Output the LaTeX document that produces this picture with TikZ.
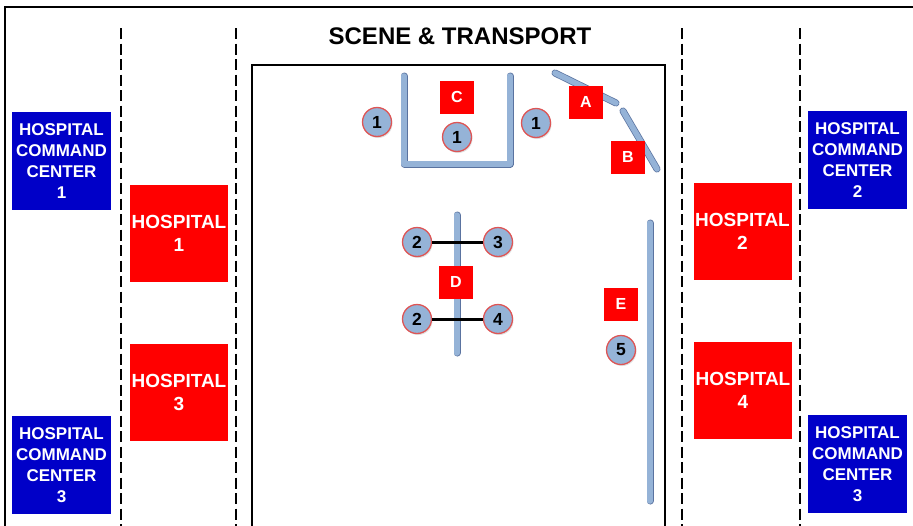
\documentclass[tikz,border=0pt]{standalone}
\usepackage{fontspec}
\setmainfont{Liberation Sans}
\usetikzlibrary{shadows}
\definecolor{hccblue}{RGB}{0,0,200}
\definecolor{hosred}{RGB}{255,0,0}
\definecolor{barfill}{RGB}{149,179,215}
\definecolor{barline}{RGB}{90,115,160}
\definecolor{ringred}{RGB}{222,85,85}

\begin{document}
\begin{tikzpicture}[x=1pt, y=-1pt, every node/.style={font=\bfseries, inner sep=0pt},
  hcc/.style={fill=hccblue, text=white, align=center, minimum width=99pt, minimum height=98pt, font=\bfseries\fontsize{17}{21}\selectfont},
  hosp/.style={fill=hosred, text=white, align=center, minimum width=98pt, minimum height=97pt, font=\bfseries\fontsize{19}{23}\selectfont},
  unit/.style={fill=hosred, text=white, minimum width=34pt, minimum height=33pt, font=\bfseries\fontsize{16}{18}\selectfont},
  resp/.style={circle, fill=barfill, draw=ringred, line width=1.3pt, minimum size=29pt, font=\bfseries\fontsize{17.5}{19}\selectfont, drop shadow={opacity=0.25, shadow xshift=1pt, shadow yshift=-1.5pt}},
  bar/.style={draw=barfill, line width=5.5pt, line cap=round, line join=round, preaction={draw=barline, line width=7pt, line cap=round, line join=round}},
  zone/.style={line width=2.3pt, dash pattern=on 11pt off 4.5pt},
  link/.style={line width=3pt}]
\useasboundingbox (0,0) rectangle (913,525);
% frame and zones
\draw[line width=2.5pt] (5,540) -- (5,7) -- (930,7);
\foreach \x in {121,236,682,800}
  \draw[zone] (\x,28) -- (\x,530);
\draw[line width=2.5pt] (252,540) -- (252,65) -- (665,65) -- (665,540);
\node[font=\bfseries\fontsize{24}{28}\selectfont] (title) at (460,36) {SCENE \& TRANSPORT};

% command centers and hospitals
\node[hcc] (hcc1) at (61.5,161) {HOSPITAL\\COMMAND\\CENTER\\1};
\node[hcc] (hcc3l) at (61.5,465) {HOSPITAL\\COMMAND\\CENTER\\3};
\node[hcc] (hcc2) at (857.5,160) {HOSPITAL\\COMMAND\\CENTER\\2};
\node[hcc] (hcc3r) at (857.5,464) {HOSPITAL\\COMMAND\\CENTER\\3};
\node[hosp] (hos1) at (179,233) {HOSPITAL\\1};
\node[hosp] (hos3) at (179,392) {HOSPITAL\\3};
\node[hosp] (hos2) at (742.5,231.5) {HOSPITAL\\2};
\node[hosp] (hos4) at (743,390.5) {HOSPITAL\\4};

% barriers
\draw[bar] (404,76) -- (404,164) -- (510,164) -- (510,76);
\draw[bar] (555,73) -- (616,103);
\draw[bar] (623,111) -- (657,169);
\draw[bar] (457,215) -- (457,353);
\draw[bar] (650,223) -- (650,501);

% units
\node[unit] (unitC) at (457,97) {C};
\node[unit] (unitA) at (586,102) {A};
\node[unit] (unitB) at (628,157) {B};
\node[unit] (unitD) at (456,282) {D};
\node[unit] (unitE) at (621,304) {E};

% responders
\node[resp] (r1a) at (377,122) {1};
\node[resp] (r1b) at (457,137) {1};
\node[resp] (r1c) at (536,123) {1};
\node[resp] (r2a) at (417,242) {2};
\node[resp] (r3) at (498,242) {3};
\node[resp] (r2b) at (417,319) {2};
\node[resp] (r4) at (498,319) {4};
\node[resp] (r5) at (621,350) {5};
\draw[link] (r2a) -- (r3);
\draw[link] (r2b) -- (r4);
\end{tikzpicture}
\end{document}
